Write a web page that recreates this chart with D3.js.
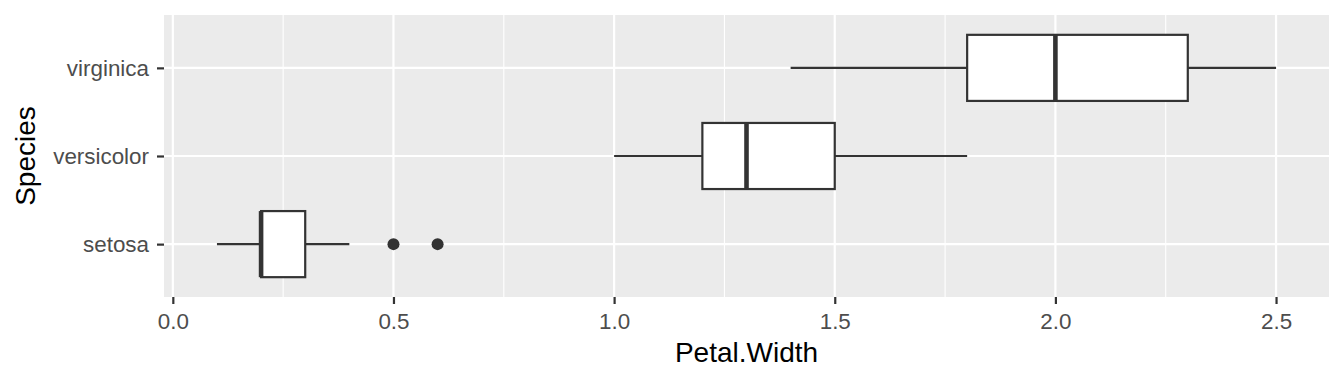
<!DOCTYPE html>
<html>
<head>
<meta charset="utf-8">
<script src="https://cdn.jsdelivr.net/npm/d3@7"></script>
<style>
  body { margin: 0; background: #fff; }
  text { font-family: "Liberation Sans", Arial, sans-serif; }
</style>
</head>
<body>
<div id="my_dataviz"></div>
<script>
// boxplot stats (Petal.Width by Species)
var species  = ["setosa", "versicolor", "virginica"];
var lowWhisk = [0.1, 1.0, 1.4];
var q1       = [0.2, 1.2, 1.8];
var medians  = [0.2, 1.3, 2.0];
var q3       = [0.3, 1.5, 2.3];
var hiWhisk  = [0.4, 1.8, 2.5];
var outliers = [[0.5, 0.6], [], []];
var xTicks   = [0.0, 0.5, 1.0, 1.5, 2.0, 2.5];
var xMinor   = [0.25, 0.75, 1.25, 1.75, 2.25];

var W = 1344, H = 384;
var margin = {top: 15, right: 15, bottom: 87, left: 164},
    width = W - margin.left - margin.right,
    height = H - margin.top - margin.bottom;

var svg = d3.select("#my_dataviz")
  .append("svg")
    .attr("width", W)
    .attr("height", H)
  .append("g")
    .attr("transform", "translate(" + margin.left + "," + margin.top + ")");

// scales (ggplot style 5% / 0.6 expansion)
var x = d3.scaleLinear()
  .domain([0.1 - 0.12, 2.5 + 0.12])
  .range([0, width]);
var y = d3.scaleLinear()
  .domain([0.4, 3.6])
  .range([height, 0]);
function yPos(i) { return y(i + 1); }

// panel
svg.append("rect")
  .attr("width", width)
  .attr("height", height)
  .attr("fill", "#EBEBEB");

// grid
svg.selectAll(".minor")
  .data(xMinor)
  .enter().append("line")
    .attr("x1", function(d) { return x(d); })
    .attr("x2", function(d) { return x(d); })
    .attr("y1", 0).attr("y2", height)
    .attr("stroke", "#fff").attr("stroke-width", 1.1);
svg.selectAll(".major")
  .data(xTicks)
  .enter().append("line")
    .attr("x1", function(d) { return x(d); })
    .attr("x2", function(d) { return x(d); })
    .attr("y1", 0).attr("y2", height)
    .attr("stroke", "#fff").attr("stroke-width", 2.2);
svg.selectAll(".hgrid")
  .data(species)
  .enter().append("line")
    .attr("x1", 0).attr("x2", width)
    .attr("y1", function(d, i) { return yPos(i); })
    .attr("y2", function(d, i) { return yPos(i); })
    .attr("stroke", "#fff").attr("stroke-width", 2.2);

// boxes
var boxH = y(0) - y(0.75);
var ink = "#333333";
var g = svg.selectAll(".box")
  .data(species)
  .enter().append("g");

g.append("line")
  .attr("x1", function(d, i) { return x(lowWhisk[i]); })
  .attr("x2", function(d, i) { return x(q1[i]); })
  .attr("y1", function(d, i) { return yPos(i); })
  .attr("y2", function(d, i) { return yPos(i); })
  .attr("stroke", ink).attr("stroke-width", 2.2);
g.append("line")
  .attr("x1", function(d, i) { return x(q3[i]); })
  .attr("x2", function(d, i) { return x(hiWhisk[i]); })
  .attr("y1", function(d, i) { return yPos(i); })
  .attr("y2", function(d, i) { return yPos(i); })
  .attr("stroke", ink).attr("stroke-width", 2.2);
g.append("rect")
  .attr("x", function(d, i) { return x(q1[i]); })
  .attr("width", function(d, i) { return x(q3[i]) - x(q1[i]); })
  .attr("y", function(d, i) { return yPos(i) - boxH / 2; })
  .attr("height", boxH)
  .attr("fill", "#fff")
  .attr("stroke", ink).attr("stroke-width", 2.2);
g.append("line")
  .attr("x1", function(d, i) { return x(medians[i]); })
  .attr("x2", function(d, i) { return x(medians[i]); })
  .attr("y1", function(d, i) { return yPos(i) - boxH / 2; })
  .attr("y2", function(d, i) { return yPos(i) + boxH / 2; })
  .attr("stroke", ink).attr("stroke-width", 4.6);
g.each(function(d, i) {
  d3.select(this).selectAll("circle")
    .data(outliers[i])
    .enter().append("circle")
      .attr("cx", function(v) { return x(v); })
      .attr("cy", yPos(i))
      .attr("r", 6)
      .attr("fill", ink);
});

// axes
var xAxis = svg.append("g")
  .attr("transform", "translate(0," + height + ")")
  .call(d3.axisBottom(x).tickValues(xTicks).tickFormat(d3.format(".1f")).tickSizeOuter(0).tickSize(7).tickPadding(9));
var yAxis = svg.append("g")
  .call(d3.axisLeft(d3.scalePoint().domain(species.slice().reverse()).range([yPos(2), yPos(0)]))
    .tickSizeOuter(0).tickSize(7).tickPadding(8));
[xAxis, yAxis].forEach(function(a) {
  a.select(".domain").remove();
  a.selectAll(".tick line").attr("stroke", "#333").attr("stroke-width", 2.2);
  a.selectAll(".tick text").attr("fill", "#4D4D4D").style("font-size", "22.4px");
});

// axis titles
svg.append("text")
  .attr("x", width / 2)
  .attr("y", height + 65)
  .attr("text-anchor", "middle")
  .style("font-size", "28px")
  .attr("fill", "#000")
  .text("Petal.Width");
svg.append("text")
  .attr("transform", "translate(" + (-129) + "," + (height / 2) + ") rotate(-90)")
  .attr("text-anchor", "middle")
  .style("font-size", "28px")
  .attr("fill", "#000")
  .text("Species");
</script>
</body>
</html>
